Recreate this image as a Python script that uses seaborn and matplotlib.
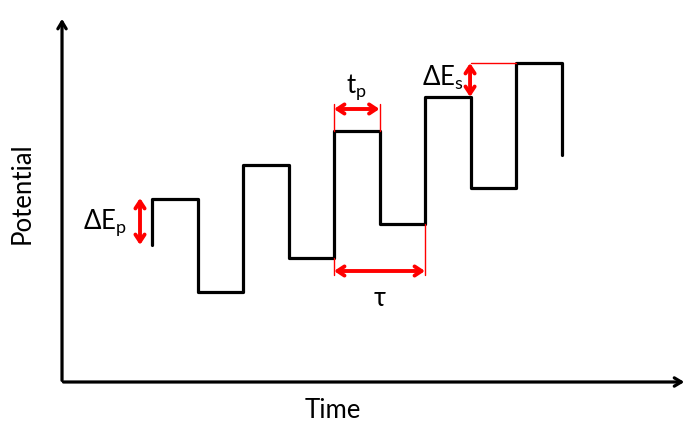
import matplotlib
matplotlib.use("Agg")
import matplotlib.pyplot as plt
import seaborn as sns
import pandas as pd

# Square wave staircase (time in pulse widths, potential in arbitrary units)
tiempo = [0, 0, 1, 2, 3, 4, 5, 6, 7, 8, 9]
potencial = [0, 46, -47, 80, -13, 114, 21, 148, 57, 182, 90]

etiqueta_x = "Time"
etiqueta_y = "Potential"

sns.set_style("white")
plt.rcParams['font.family'] = ['Lato', 'DejaVu Sans']
plt.rcParams['text.color'] = 'black'
plt.rcParams['mathtext.fontset'] = 'custom'
plt.rcParams['mathtext.rm'] = 'Lato'
plt.rcParams['mathtext.it'] = 'Lato'
plt.rcParams['mathtext.default'] = 'regular'

df = pd.DataFrame({'t': tiempo, 'E': potencial})

fig = plt.figure(figsize=(6.88, 4.23), dpi=100)
ax = fig.add_axes([0, 0, 1, 1])
ax.set_xlim(-3.341, 11.780)
ax.set_ylim(-178, 245)
ax.axis('off')

# waveform
sns.lineplot(data=df, x='t', y='E', drawstyle='steps-post', estimator=None,
             sort=False, color='black', lw=2.3, ax=ax)

# axes with arrows
x0, y0 = -1.978, -137
ax.annotate('', xy=(x0, 229), xytext=(x0, y0 - 1.2),
            arrowprops=dict(arrowstyle='->,head_length=0.5,head_width=0.3', lw=2.3, color='black'))
ax.annotate('', xy=(11.76, y0), xytext=(x0 - 0.03, y0),
            arrowprops=dict(arrowstyle='->,head_length=0.5,head_width=0.3', lw=2.3, color='black'))
ax.text(-2.857, 52, etiqueta_y, rotation=90, ha='center', va='center', fontsize=18.5)
ax.text(3.978, -166, etiqueta_x, ha='center', va='center', fontsize=18.5)

rojo = '#ff0000'
flecha = dict(arrowstyle='<->,head_length=0.5,head_width=0.33', lw=2.8, color=rojo,
              shrinkA=0, shrinkB=0)

# Delta E_p
ax.annotate('', xy=(-0.264, potencial[1] + 1), xytext=(-0.264, potencial[0]), arrowprops=flecha)
ax.text(-0.55, 22, r'$\Delta E_p$', ha='right', va='center', fontsize=18.5)

# t_p
ax.plot([4, 4], [potencial[5], 141], color=rojo, lw=1)
ax.plot([5, 5], [potencial[5], 141], color=rojo, lw=1)
ax.annotate('', xy=(4, 136), xytext=(5, 136), arrowprops=flecha)
ax.text(4.5, 158, r'$t_p$', ha='center', va='center', fontsize=18.5)

# Delta E_s
ax.plot([7, 8], [potencial[9], potencial[9]], color=rojo, lw=1)
ax.annotate('', xy=(6.99, potencial[7]), xytext=(6.99, potencial[9]), arrowprops=flecha)
ax.text(6.84, 167, r'$\Delta E_s$', ha='right', va='center', fontsize=18.5)

# tau
ax.plot([4, 4], [potencial[4], -30], color=rojo, lw=1)
ax.plot([6, 6], [potencial[6], -30], color=rojo, lw=1)
ax.annotate('', xy=(4, -26), xytext=(6, -26), arrowprops=flecha)
ax.text(5, -53, 'τ', ha='center', va='center', fontsize=18.5)

plt.savefig('out.png', dpi=100)
